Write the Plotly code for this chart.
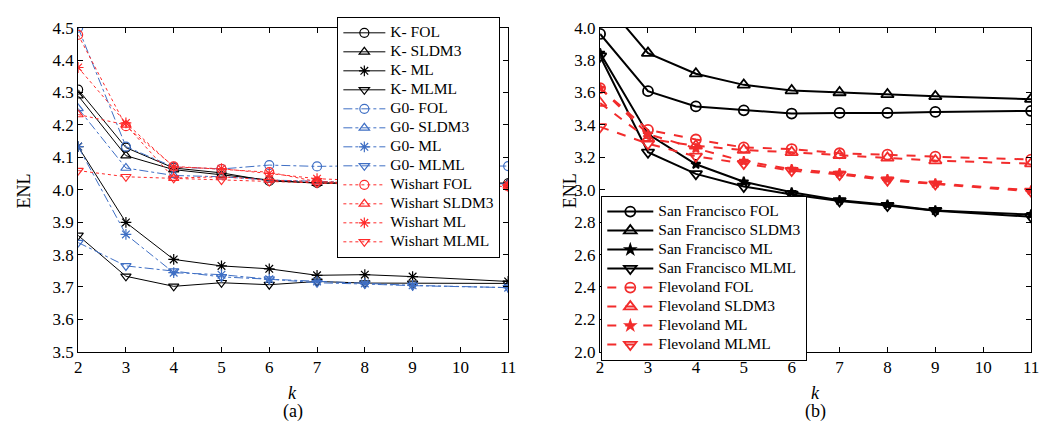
import plotly.graph_objects as go

k = [2, 3, 4, 5, 6, 7, 8, 9, 11]

# Panel (a)
k_fol = [4.309, 4.130, 4.067, 4.052, 4.027, 4.021, 4.021, 4.020, 4.020]
k_sldm3 = [4.290, 4.105, 4.062, 4.045, 4.030, 4.020, 4.020, 4.020, 4.020]
k_ml = [4.133, 3.899, 3.785, 3.765, 3.756, 3.736, 3.738, 3.732, 3.717]
k_mlml = [3.859, 3.733, 3.702, 3.713, 3.707, 3.717, 3.712, 3.711, 3.711]
g0_fol = [4.500, 4.133, 4.070, 4.064, 4.076, 4.072, 4.074, 4.074, 4.073]
g0_sldm3 = [4.251, 4.067, 4.044, 4.040, 4.030, 4.025, 4.022, 4.020, 4.018]
g0_ml = [4.133, 3.862, 3.744, 3.738, 3.724, 3.717, 3.711, 3.705, 3.698]
g0_mlml = [3.837, 3.765, 3.749, 3.731, 3.724, 3.713, 3.709, 3.704, 3.698]
w_fol = [4.478, 4.196, 4.072, 4.064, 4.054, 4.025, 4.020, 4.015, 4.010]
w_sldm3 = [4.232, 4.200, 4.036, 4.040, 4.030, 4.025, 4.020, 4.015, 4.012]
w_ml = [4.377, 4.206, 4.070, 4.065, 4.050, 4.034, 4.028, 4.022, 4.015]
w_mlml = [4.059, 4.040, 4.035, 4.030, 4.025, 4.020, 4.016, 4.013, 4.010]

# Panel (b)
sf_fol = [3.961, 3.608, 3.514, 3.490, 3.470, 3.474, 3.474, 3.480, 3.486]
sf_sldm3 = [4.190, 3.843, 3.716, 3.647, 3.612, 3.600, 3.588, 3.576, 3.559]
sf_ml = [3.843, 3.343, 3.157, 3.049, 2.984, 2.935, 2.908, 2.872, 2.847]
sf_mlml = [3.824, 3.231, 3.098, 3.020, 2.971, 2.931, 2.902, 2.871, 2.833]
fl_fol = [3.627, 3.369, 3.310, 3.261, 3.251, 3.225, 3.216, 3.204, 3.186]
fl_sldm3 = [3.535, 3.314, 3.271, 3.245, 3.231, 3.212, 3.196, 3.180, 3.161]
fl_ml = [3.627, 3.343, 3.255, 3.176, 3.127, 3.102, 3.065, 3.039, 2.996]
fl_mlml = [3.388, 3.284, 3.206, 3.161, 3.118, 3.094, 3.059, 3.035, 2.990]

BLACK = "#000000"
BLUE = "#3f6fc4"
RED = "#ff2a2a"
FONT = "Liberation Serif, Times New Roman, Times, serif"

fig = go.Figure()

def lab(text, size):
    return "<span style='font-size:%.1fpx'>%s</span>" % (size, text)

left = [
    ("K- FOL", k_fol, BLACK, "solid", "circle-open"),
    ("K- SLDM3", k_sldm3, BLACK, "solid", "triangle-up-open"),
    ("K- ML", k_ml, BLACK, "solid", "asterisk-open"),
    ("K- MLML", k_mlml, BLACK, "solid", "triangle-down-open"),
    ("G0- FOL", g0_fol, BLUE, "dashdot", "circle-open"),
    ("G0- SLDM3", g0_sldm3, BLUE, "dashdot", "triangle-up-open"),
    ("G0- ML", g0_ml, BLUE, "dashdot", "asterisk-open"),
    ("G0- MLML", g0_mlml, BLUE, "dashdot", "triangle-down-open"),
    ("Wishart FOL", w_fol, RED, "dot", "circle-open"),
    ("Wishart SLDM3", w_sldm3, RED, "dot", "triangle-up-open"),
    ("Wishart ML", w_ml, RED, "dot", "asterisk-open"),
    ("Wishart MLML", w_mlml, RED, "dot", "triangle-down-open"),
]
for name, y, c, dash, sym in left:
    fig.add_trace(go.Scatter(
        x=k, y=y, name=lab(name, 15.5), mode="lines+markers",
        line=dict(color=c, width=1, dash=dash),
        marker=dict(symbol=sym, size=9, color=c, line=dict(color=c, width=1.2)),
        xaxis="x", yaxis="y", legend="legend",
    ))

RED2 = "#f22c2c"
right = [
    ("San Francisco FOL", sf_fol, BLACK, "solid", "circle-open", 10),
    ("San Francisco SLDM3", sf_sldm3, BLACK, "solid", "triangle-up-open", 11),
    ("San Francisco ML", sf_ml, BLACK, "solid", "star", 7),
    ("San Francisco MLML", sf_mlml, BLACK, "solid", "triangle-down-open", 11),
    ("Flevoland FOL", fl_fol, RED2, "dash", "circle-open", 10),
    ("Flevoland SLDM3", fl_sldm3, RED2, "dash", "triangle-up-open", 11),
    ("Flevoland ML", fl_ml, RED2, "dash", "star", 7),
    ("Flevoland MLML", fl_mlml, RED2, "dash", "triangle-down-open", 11),
]
for name, y, c, dash, sym, sz in right:
    fig.add_trace(go.Scatter(
        x=k, y=y, name=lab(name, 15.5), mode="lines+markers",
        line=dict(color=c, width=2, dash=dash),
        marker=dict(symbol=sym, size=sz, color=c, line=dict(color=c, width=1.8)),
        xaxis="x2", yaxis="y2", legend="legend2",
    ))

W, H = 1049, 434
ytop, ybot = 19.5, 358.5
ydom = [1 - ybot / H, 1 - ytop / H]

axis_common = dict(
    showgrid=False, zeroline=False, showline=True, linecolor="black", linewidth=1.2,
    mirror="ticks", ticks="inside", ticklen=5, tickcolor="black",
    tickfont=dict(family=FONT, size=17, color="black"),
)

fig.update_layout(
    width=W, height=H,
    margin=dict(l=0, r=0, t=0, b=0),
    paper_bgcolor="white", plot_bgcolor="white",
    font=dict(family=FONT, color="black"),
    xaxis=dict(domain=[75 / W, 510 / W], range=[2, 11], dtick=1, anchor="y", **axis_common),
    yaxis=dict(domain=ydom, range=[3.5, 4.5], dtick=0.1, tickformat=".1f", anchor="x", **axis_common),
    xaxis2=dict(domain=[603 / W, 1039 / W], range=[2, 11], dtick=1, anchor="y2", **axis_common),
    yaxis2=dict(domain=ydom, range=[2.0, 4.0], dtick=0.2, tickformat=".1f", anchor="x2", **axis_common),
    legend=dict(
        x=337 / W, y=1 - 8.5 / H, xanchor="left", yanchor="top",
        bgcolor="white", bordercolor="black", borderwidth=1.2,
        font=dict(family=FONT, size=11.9, color="black"),
        itemwidth=42, tracegroupgap=0,
    ),
    legend2=dict(
        x=604 / W, y=1 - 368 / H, xanchor="left", yanchor="bottom",
        bgcolor="white", bordercolor="black", borderwidth=1.2,
        font=dict(family=FONT, size=11.4, color="black"),
        itemwidth=46, tracegroupgap=0,
    ),
    showlegend=True,
)

ann_font = dict(family=FONT, size=18, color="black")
annotations = [
    dict(x=20 / W, y=1 - 190 / H, text="ENL", textangle=-90),
    dict(x=572 / W, y=1 - 190 / H, text="ENL", textangle=-90),
    dict(x=292 / W, y=1 - 402 / H, text="<i>k</i>"),
    dict(x=821 / W, y=1 - 402 / H, text="<i>k</i>"),
    dict(x=292 / W, y=1 - 421 / H, text="(a)"),
    dict(x=821 / W, y=1 - 421 / H, text="(b)"),
]
for a in annotations:
    fig.add_annotation(xref="paper", yref="paper", showarrow=False,
                       xanchor="center", yanchor="middle", font=ann_font, **a)

fig.write_html("out.html")
